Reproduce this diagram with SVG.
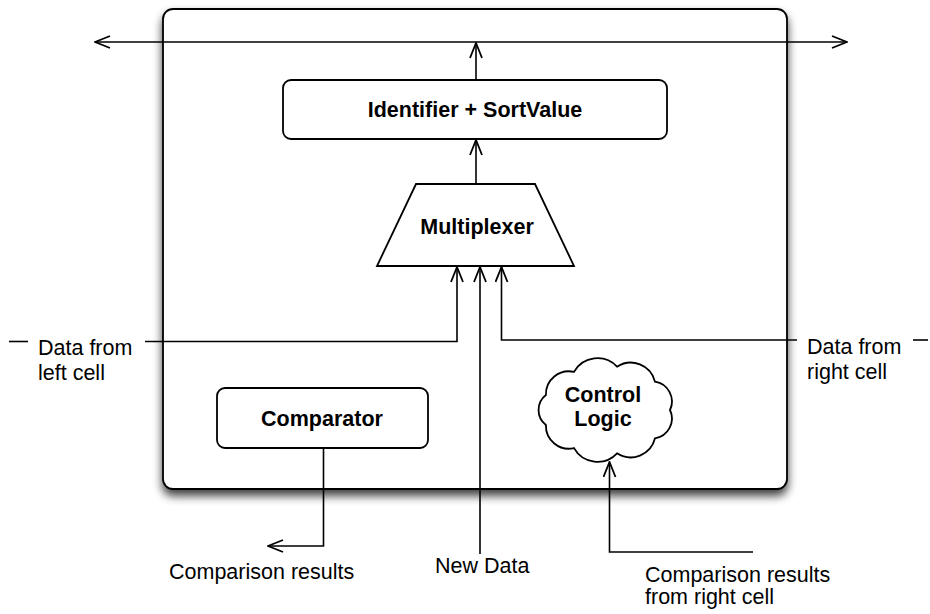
<svg xmlns="http://www.w3.org/2000/svg" width="930" height="614" viewBox="0 0 930 614">
  <style>
    .shape { fill: #ffffff; stroke: #000000; stroke-width: 1.8; }
    .wire { fill: none; stroke: #000000; stroke-width: 1.6; }
    .label { font-family: "Liberation Sans", Arial, Helvetica, sans-serif; font-size: 21.5px; fill: #000000; }
    .title { font-family: "Liberation Sans", Arial, Helvetica, sans-serif; font-size: 21.5px; font-weight: bold; fill: #000000; text-anchor: middle; }
  </style>
  <defs>
    <filter id="dropShadow" x="-10%" y="-10%" width="120%" height="125%">
      <feGaussianBlur in="SourceAlpha" stdDeviation="5"/>
      <feOffset dx="0" dy="6" result="blur"/>
      <feComponentTransfer>
        <feFuncA type="linear" slope="0.75"/>
      </feComponentTransfer>
      <feMerge>
        <feMergeNode/>
        <feMergeNode in="SourceGraphic"/>
      </feMerge>
    </filter>
    <marker id="arrowOpen" viewBox="0 0 17 14" refX="16" refY="7" markerWidth="17" markerHeight="14" markerUnits="userSpaceOnUse" orient="auto">
      <path d="M1,1 L16,7 L1,13" fill="none" stroke="#000000" stroke-width="1.8"/>
    </marker>
  </defs>

  <!-- sorting cell enclosure -->
  <g id="cell">
    <rect x="163" y="9" width="624" height="480" rx="10" ry="10" class="shape" filter="url(#dropShadow)"/>
  </g>

  <g id="identifier">
    <rect x="283" y="80" width="384" height="59" rx="8" ry="8" class="shape"/>
    <text x="475" y="117" class="title">Identifier + SortValue</text>
  </g>

  <g id="multiplexer">
    <polygon points="416,184 535,184 574,266 377,266" class="shape"/>
    <text x="477" y="234" class="title">Multiplexer</text>
  </g>

  <g id="comparator">
    <rect x="217" y="388" width="211" height="60" rx="8" ry="8" class="shape"/>
    <text x="322" y="426" class="title">Comparator</text>
  </g>

  <g id="control-logic">
    <path class="shape" d="M670,410
      A20,20 0 0 1 655,438.3
      A25,25 0 0 1 617.1,453.3
      A27,27 0 0 1 574,448.1
      A23,23 0 0 1 545.9,425
      A19,19 0 0 1 545.9,395
      A23,23 0 0 1 574,371.9
      A27,27 0 0 1 617.1,366.7
      A25,25 0 0 1 655,381.7
      A20,20 0 0 1 670,410 Z"/>
    <text x="603" y="402" class="title">Control</text>
    <text x="603" y="426" class="title">Logic</text>
  </g>

  <!-- wiring -->
  <g id="connectors">
    <!-- neighbour bus along the top -->
    <line x1="476" y1="42" x2="95" y2="42" class="wire" marker-end="url(#arrowOpen)"/>
    <line x1="476" y1="42" x2="847" y2="42" class="wire" marker-end="url(#arrowOpen)"/>
    <line x1="476" y1="80" x2="476" y2="43" class="wire" marker-end="url(#arrowOpen)"/>
    <!-- multiplexer output into register -->
    <line x1="476" y1="184" x2="476" y2="140" class="wire" marker-end="url(#arrowOpen)"/>
    <!-- multiplexer inputs -->
    <polyline points="145,341.5 457,341.5 457,267" class="wire" marker-end="url(#arrowOpen)"/>
    <line x1="480" y1="554" x2="480" y2="267" class="wire" marker-end="url(#arrowOpen)"/>
    <polyline points="797,340 501.5,340 501.5,267" class="wire" marker-end="url(#arrowOpen)"/>
    <!-- outer stubs beside the side labels -->
    <line x1="9" y1="341.5" x2="28" y2="341.5" class="wire"/>
    <line x1="913" y1="340" x2="928" y2="340" class="wire"/>
    <!-- comparator result -->
    <polyline points="323.5,448 323.5,546 268,546" class="wire" marker-end="url(#arrowOpen)"/>
    <!-- comparison results from the right neighbour -->
    <polyline points="753,552 609.5,552 609.5,462" class="wire" marker-end="url(#arrowOpen)"/>
  </g>

  <g id="labels">
    <text x="38" y="355" class="label">Data from</text>
    <text x="38" y="380" class="label">left cell</text>
    <text x="807" y="354" class="label">Data from</text>
    <text x="807" y="379" class="label">right cell</text>
    <text x="169" y="579" class="label">Comparison results</text>
    <text x="435" y="573" class="label">New Data</text>
    <text x="645" y="582" class="label">Comparison results</text>
    <text x="645" y="604" class="label">from right cell</text>
  </g>
</svg>
